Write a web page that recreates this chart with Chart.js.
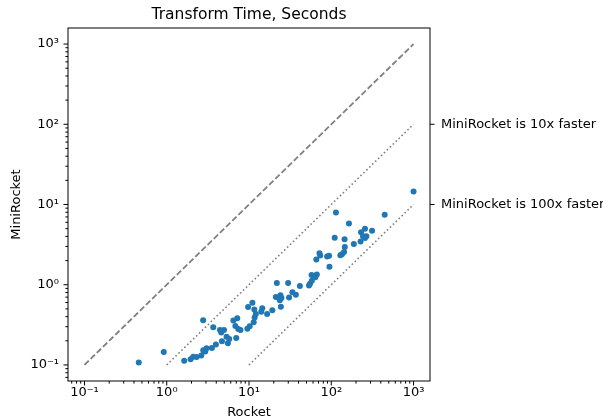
<!DOCTYPE html>
<html>
<head>
<meta charset="utf-8">
<script src="https://cdn.jsdelivr.net/npm/chart.js@4.4.1/dist/chart.umd.min.js"></script>
<style>
  html, body { margin: 0; padding: 0; background: #fff; }
  canvas { display: block; }
</style>
</head>
<body>
<canvas id="chart" width="603" height="420"></canvas>
<script>
const TITLE = "Transform Time, Seconds";
const X_LABEL = "Rocket";
const Y_LABEL = "MiniRocket";

// transform time per dataset, seconds
const rocketTimes = [
    0.457, 0.92, 1.63, 1.95, 2.10, 2.31, 2.63, 2.78, 2.94, 3.05,
    3.54, 3.96, 4.69, 5.34, 5.54, 5.75, 2.77, 3.68, 4.44, 4.60,
    4.97, 6.46, 6.83, 7.20, 7.40, 7.87, 7.00, 9.55, 10.2, 11.4,
    9.75, 11.0, 11.6, 12.1, 11.7, 14.1, 14.5, 16.6, 19.2, 21.2,
    21.8, 24.1, 24.8, 23.7, 24.4, 29.9, 30.7, 33.7, 37.1, 41.5,
    53.6, 55.1, 58.0, 57.6, 66.7, 64.0, 65.8, 71.9, 73.3, 89.0,
    94.0, 95.0, 110, 114, 129, 135, 143, 146, 145, 164,
    188, 227, 230, 257, 243, 267, 257, 313, 446, 1000
];
const miniRocketTimes = [
    0.107, 0.145, 0.113, 0.118, 0.127, 0.126, 0.131, 0.153, 0.147, 0.161,
    0.163, 0.180, 0.198, 0.225, 0.186, 0.210, 0.361, 0.296, 0.272, 0.254,
    0.272, 0.358, 0.306, 0.381, 0.281, 0.273, 0.216, 0.283, 0.303, 0.340,
    0.526, 0.595, 0.490, 0.431, 0.390, 0.462, 0.508, 0.431, 0.481, 0.705,
    1.05, 0.738, 0.684, 0.642, 0.533, 1.05, 0.694, 0.803, 0.748, 0.966,
    0.977, 1.03, 1.12, 1.32, 1.34, 1.24, 2.07, 2.46, 2.31, 2.25,
    2.29, 1.67, 3.86, 7.96, 2.33, 2.40, 2.56, 2.96, 3.68, 5.81,
    3.22, 3.45, 4.52, 4.98, 4.03, 4.03, 3.81, 4.71, 7.46, 14.5
];

// reference lines
const sameSpeedX = [0.1, 1000];
const sameSpeedY = [0.1, 1000];
const tenXFasterX = [1, 1000];
const tenXFasterY = [0.1, 100];
const hundredXFasterX = [10, 1000];
const hundredXFasterY = [0.1, 10];

const decadeValues = [0.1, 1, 10, 100, 1000];
const decadeLabels = ["10⁻¹", "10⁰", "10¹", "10²", "10³"];
const sideTickValues = [100, 10];
const sideTickLabels = ["MiniRocket is 10x faster", "MiniRocket is 100x faster"];

const AXIS_MIN = Math.pow(10, -1.2);
const AXIS_MAX = Math.pow(10, 3.2);

Chart.defaults.font.family = "'DejaVu Sans', sans-serif";
Chart.defaults.font.size = 13;
Chart.defaults.color = "#000";

const toPoints = (xs, ys) => xs.map((x, i) => ({ x, y: ys[i] }));

function isDecade(v) {
    const e = Math.log10(v);
    return Math.abs(e - Math.round(e)) < 1e-9;
}

function logTicks() {
    const out = [];
    for (let e = -2; e <= 3; e++) {
        for (let m = 1; m <= 9; m++) {
            const v = m * Math.pow(10, e);
            if (v >= AXIS_MIN && v <= AXIS_MAX) out.push({ value: v });
        }
    }
    return out;
}

function decadeLabel(value) {
    if (!isDecade(value)) return "";
    const i = decadeValues.findIndex(d => Math.abs(d - value) / d < 1e-6);
    return i >= 0 ? decadeLabels[i] : "";
}

// matplotlib-like frame, tick marks and centred title
const frameAndTicks = {
    id: "frameAndTicks",
    afterDraw(chart) {
        const { ctx, chartArea: a, scales } = chart;
        ctx.save();
        ctx.strokeStyle = "#000";
        ctx.lineWidth = 1;
        ctx.strokeRect(a.left, a.top, a.right - a.left, a.bottom - a.top);

        ctx.beginPath();
        scales.x.ticks.forEach(t => {
            const px = scales.x.getPixelForValue(t.value);
            const len = isDecade(t.value) ? 4.5 : 2.6;
            ctx.moveTo(px, a.bottom);
            ctx.lineTo(px, a.bottom + len);
        });
        scales.y.ticks.forEach(t => {
            const py = scales.y.getPixelForValue(t.value);
            const len = isDecade(t.value) ? 4.5 : 2.6;
            ctx.moveTo(a.left - len, py);
            ctx.lineTo(a.left, py);
        });
        sideTickValues.forEach(v => {
            const py = scales.y2.getPixelForValue(v);
            ctx.moveTo(a.right, py);
            ctx.lineTo(a.right + 4.5, py);
        });
        ctx.stroke();

        ctx.fillStyle = "#000";
        ctx.font = "15.5px 'DejaVu Sans', sans-serif";
        ctx.textAlign = "center";
        ctx.textBaseline = "middle";
        ctx.fillText(TITLE, (a.left + a.right) / 2, 15);
        ctx.restore();
    }
};

const logAxis = {
    type: "logarithmic",
    min: AXIS_MIN,
    max: AXIS_MAX,
    grid: { display: false, drawTicks: false },
    border: { display: false }
};

new Chart(document.getElementById("chart"), {
    type: "scatter",
    data: {
        datasets: [
            {
                data: toPoints(rocketTimes, miniRocketTimes),
                backgroundColor: "#1f77b4",
                borderWidth: 0,
                pointRadius: 3,
                order: 0
            },
            {
                data: toPoints(sameSpeedX, sameSpeedY),
                showLine: true,
                borderColor: "#808080",
                borderWidth: 1.8,
                borderDash: [6, 2.6],
                pointRadius: 0,
                order: 1
            },
            {
                data: toPoints(tenXFasterX, tenXFasterY),
                showLine: true,
                borderColor: "#808080",
                borderWidth: 1.6,
                borderDash: [1.6, 2.5],
                pointRadius: 0,
                order: 1
            },
            {
                data: toPoints(hundredXFasterX, hundredXFasterY),
                showLine: true,
                borderColor: "#808080",
                borderWidth: 1.6,
                borderDash: [1.6, 2.5],
                pointRadius: 0,
                order: 1
            }
        ]
    },
    options: {
        responsive: false,
        animation: false,
        devicePixelRatio: 1,
        layout: { padding: { top: 28, left: 0, right: 0, bottom: 0 } },
        plugins: {
            legend: { display: false },
            tooltip: { enabled: false }
        },
        scales: {
            x: {
                ...logAxis,
                position: "bottom",
                afterBuildTicks: s => { s.ticks = logTicks(); },
                afterFit: s => { s.height = 39; },
                ticks: {
                    autoSkip: false,
                    maxRotation: 0,
                    padding: 4,
                    callback: v => decadeLabel(v)
                },
                title: { display: true, text: X_LABEL, padding: { top: 0, bottom: 0 } }
            },
            y: {
                ...logAxis,
                position: "left",
                afterBuildTicks: s => { s.ticks = logTicks(); },
                afterFit: s => { s.width = 68; },
                ticks: {
                    autoSkip: false,
                    padding: 9,
                    callback: v => decadeLabel(v)
                },
                title: { display: true, text: Y_LABEL, padding: { top: 9, bottom: 0 } }
            },
            y2: {
                ...logAxis,
                position: "right",
                afterBuildTicks: s => { s.ticks = sideTickValues.map(v => ({ value: v })); },
                afterFit: s => { s.width = 173; },
                ticks: {
                    autoSkip: false,
                    padding: 11,
                    callback: v => {
                        const i = sideTickValues.findIndex(d => Math.abs(d - v) / d < 1e-6);
                        return i >= 0 ? sideTickLabels[i] : "";
                    }
                }
            }
        }
    },
    plugins: [frameAndTicks]
});
</script>
</body>
</html>
